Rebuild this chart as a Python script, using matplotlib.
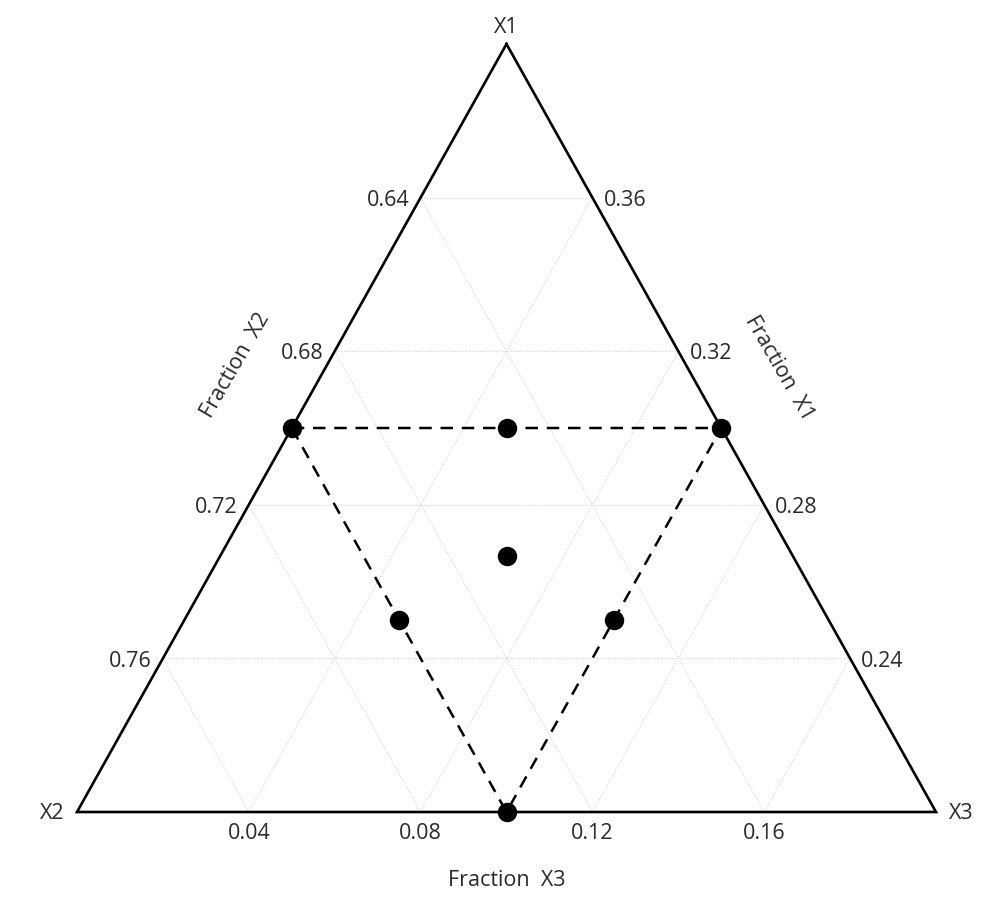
import matplotlib
matplotlib.use('Agg')
import matplotlib.pyplot as plt
import numpy as np

plt.rcParams['font.family'] = ['Open Sans', 'DejaVu Sans']

# design points (fractions X1, X2, X3)
x1 = [0.3, 0.3, 0.3, 0.2667, 0.25, 0.25, 0.2]
x2 = [0.7, 0.65, 0.6, 0.6667, 0.7, 0.65, 0.7]
x3 = [0.0, 0.05, 0.1, 0.0667, 0.05, 0.1, 0.1]

# corners of the dashed design region
reg1 = [0.3, 0.3, 0.2]
reg2 = [0.7, 0.6, 0.7]
reg3 = [0.0, 0.1, 0.1]

# axis ranges and ticks
x1_min, x2_min, x3_min = 0.2, 0.6, 0.0
span = 0.2
x1_ticks = [0.24, 0.28, 0.32, 0.36]
x2_ticks = [0.64, 0.68, 0.72, 0.76]
x3_ticks = [0.04, 0.08, 0.12, 0.16]


def to_xy(f1, f2, f3):
    a = (np.asarray(f1) - x1_min) / span
    c = (np.asarray(f3) - x3_min) / span
    return c + 0.5 * a, a


fig = plt.figure(figsize=(9.97, 9.01), dpi=100)
ax = fig.add_axes([77 / 997, (901 - 812) / 901, 859 / 997, 768 / 901])
ax.set_xlim(0, 1)
ax.set_ylim(0, 1)
ax.axis('off')

grid_kw = dict(color='#d4d4d4', lw=0.8, ls=(0, (1, 1.5)), zorder=1)
text_kw = dict(fontsize=15.5, color='#2a2a2a')

# grid lines
for t in x1_ticks:
    xs, ys = to_xy([t, t], [1 - t - x3_min, x2_min], [x3_min, 1 - t - x2_min])
    ax.plot(xs, ys, **grid_kw)
for t in x2_ticks:
    xs, ys = to_xy([1 - t - x3_min, x1_min], [t, t], [x3_min, 1 - t - x1_min])
    ax.plot(xs, ys, **grid_kw)
for t in x3_ticks:
    xs, ys = to_xy([x1_min, 1 - t - x2_min], [1 - t - x1_min, x2_min], [t, t])
    ax.plot(xs, ys, **grid_kw)

# triangle outline
cx, cy = to_xy([0.4, 0.2, 0.2, 0.4], [0.6, 0.8, 0.6, 0.6], [0.0, 0.0, 0.2, 0.0])
ax.plot(cx, cy, color='black', lw=1.9, zorder=3, solid_joinstyle='miter',
        clip_on=False)

# tick labels
for t in x2_ticks:
    px, py = to_xy(1 - t, t, 0.0)
    ax.annotate(f'{t:.2f}', (px, py), xytext=(-8, -2), textcoords='offset points',
                ha='right', va='center', **text_kw)
for t in x1_ticks:
    px, py = to_xy(t, x2_min, 1 - t - x2_min)
    ax.annotate(f'{t:.2f}', (px, py), xytext=(8, -2), textcoords='offset points',
                ha='left', va='center', **text_kw)
for t in x3_ticks:
    px, py = to_xy(x1_min, 1 - t - x1_min, t)
    ax.annotate(f'{t:.2f}', (px, py), xytext=(0, -8), textcoords='offset points',
                ha='center', va='top', **text_kw)

# vertex labels
ax.annotate('X1', to_xy(0.4, 0.6, 0.0), xytext=(0, 4), textcoords='offset points',
            ha='center', va='bottom', **text_kw)
ax.annotate('X2', to_xy(0.2, 0.8, 0.0), xytext=(-9, -1), textcoords='offset points',
            ha='right', va='center', **text_kw)
ax.annotate('X3', to_xy(0.2, 0.6, 0.2), xytext=(9, -1), textcoords='offset points',
            ha='left', va='center', **text_kw)

# axis titles
ax.annotate('Fraction  X2', to_xy(0.3164, 0.6836, 0.0), xytext=(-66, 0),
            textcoords='offset points', ha='center', va='center', rotation=60,
            **text_kw)
ax.annotate('Fraction  X1', to_xy(0.3156, 0.6, 0.0844), xytext=(66, 0),
            textcoords='offset points', ha='center', va='center', rotation=-60,
            **text_kw)
ax.annotate('Fraction  X3', to_xy(0.2, 0.7, 0.1), xytext=(0, -49),
            textcoords='offset points', ha='center', va='center', **text_kw)

# design region and points
rx, ry = to_xy(reg1 + reg1[:1], reg2 + reg2[:1], reg3 + reg3[:1])
ax.plot(rx, ry, color='black', lw=1.8, ls=(0, (5, 3.5)), zorder=4, clip_on=False)
px, py = to_xy(x1, x2, x3)
ax.plot(px, py, 'o', color='black', ms=13, zorder=5, clip_on=False)

fig.savefig('out.png', dpi=100, facecolor='white')
